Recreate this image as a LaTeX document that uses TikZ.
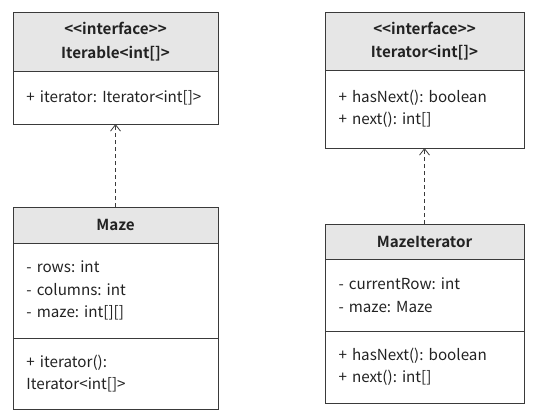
\documentclass[tikz,border=0pt]{standalone}
\usepackage{fontspec}
\setmainfont{Noto Sans CJK SC}[BoldFont={Noto Sans CJK SC Bold}]
\usetikzlibrary{arrows.meta, positioning}

\definecolor{headfill}{HTML}{E6E6E6}
\definecolor{boxline}{HTML}{3A3A3A}
\definecolor{umltext}{HTML}{222222}

\begin{document}
\frenchspacing
\begin{tikzpicture}[x=1pt, y=-1pt,
    classhead/.style={draw=boxline, fill=headfill, line width=0.8pt, outer sep=0pt, align=center, font=\fontsize{15.2}{23.5}\selectfont\bfseries, text=umltext},
    classpart/.style={draw=boxline, line width=0.8pt, outer sep=0pt, inner xsep=13.5pt, inner ysep=0pt, align=left, font=\fontsize{15.2}{22.5}\selectfont, text=umltext},
    realizes/.style={draw=boxline, line width=0.8pt, dash pattern=on 4pt off 3pt, -{Straight Barb[length=6.5pt, width=10pt]}}]

    \useasboundingbox (0, 0) rectangle (536, 415);

    % Iterable interface
    \node[classhead, anchor=north west, minimum width=205pt, minimum height=59pt] (iterableHead) at (13, 12) {<{}<interface>{}>\\Iterable<int[]>};
    \node[classpart, below=0pt of iterableHead, text width=178pt, minimum height=53pt] (iterableOps) {+ iterator: Iterator<int[]>};

    % Maze class
    \node[classhead, anchor=north west, minimum width=205pt, minimum height=36pt] (mazeHead) at (13, 207) {Maze};
    \node[classpart, below=0pt of mazeHead, text width=178pt, minimum height=95pt] (mazeAttr) {- rows: int\\- columns: int\\- maze: int[][]};
    \node[classpart, below=0pt of mazeAttr, text width=178pt, minimum height=71pt] (mazeOps) {+ iterator():\\Iterator<int[]>};

    % Iterator interface
    \node[classhead, anchor=north west, minimum width=199pt, minimum height=58pt] (iteratorHead) at (325, 12) {<{}<interface>{}>\\Iterator<int[]>};
    \node[classpart, below=0pt of iteratorHead, text width=172pt, minimum height=78pt] (iteratorOps) {+ hasNext(): boolean\\+ next(): int[]};

    % MazeIterator class
    \node[classhead, anchor=north west, minimum width=199pt, minimum height=35pt] (mazeIterHead) at (325, 224) {MazeIterator};
    \node[classpart, below=0pt of mazeIterHead, text width=172pt, minimum height=72pt] (mazeIterAttr) {- currentRow: int\\- maze: Maze};
    \node[classpart, below=0pt of mazeIterAttr, text width=172pt, minimum height=72pt] (mazeIterOps) {+ hasNext(): boolean\\+ next(): int[]};

    % Realization arrows
    \draw[realizes] (mazeHead) -- (iterableOps);
    \draw[realizes] (mazeIterHead) -- (iteratorOps);
\end{tikzpicture}
\end{document}
